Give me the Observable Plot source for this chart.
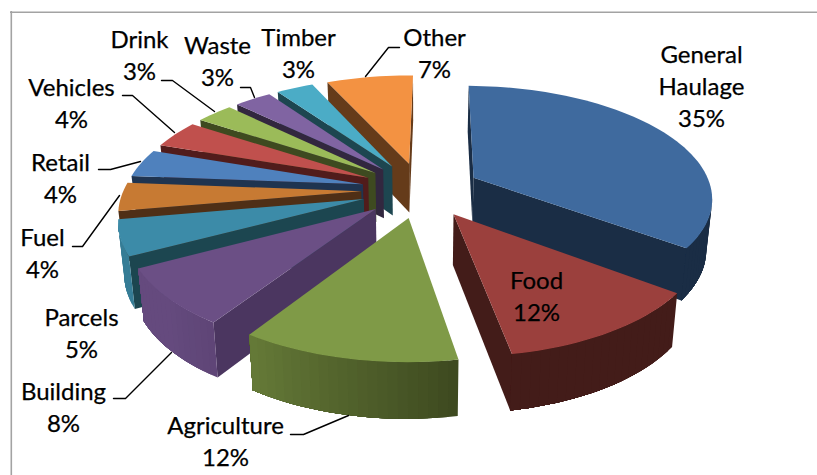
<!DOCTYPE html>
<html>
<head>
<meta charset="utf-8">
<style>
  html, body { margin: 0; background: #fff; }
  svg { display: block; }
</style>
<script src="https://cdn.jsdelivr.net/npm/d3@7"></script>
<script src="https://cdn.jsdelivr.net/npm/@observablehq/plot@0.6"></script>
</head>
<body>
<div id="chart"></div>
<script>
// Share of freight by sector, percent, clockwise from twelve o'clock.
const sectors = ["General\nHaulage", "Food", "Agriculture", "Building", "Parcels", "Fuel", "Retail", "Vehicles", "Drink", "Waste", "Timber", "Other"];
const shares = [35, 12, 12, 8, 5, 4, 4, 4, 3, 3, 3, 7];

const topColors = ["#3f6a9e", "#9b403d", "#7f9a47", "#6b4f85", "#3c8ba8", "#c77a33", "#4f81bd", "#c0504d", "#9bbb59", "#8064a2", "#4bacc6", "#f39242"];
const sideColors = ["#1a2d45", "#431c19", "#3e4a20", "#4b3660", "#1c4650", "#4f2f16", "#1f3450", "#511c1b", "#3e4a20", "#32273f", "#1d4650", "#653b1a"];

// Label block centres and leader-line bends, in chart units.
const labelX = [701, 536, 225, 63, 81, 42, 60, 71, 139, 217, 298, 434];
const labelY = [84.5, 294.5, 439.5, 405.5, 331.5, 251.5, 176.5, 101.5, 53.5, 59.5, 51.5, 51.5];
const leaders = [
  {name: "Other", x: [365, 388, 399], y: [76, 47, 47]},
  {name: "Drink", x: [214, 172, 161], y: [111, 80, 80]},
  {name: "Waste", x: [254, 250, 240], y: [97, 87, 87]},
  {name: "Vehicles", x: [174, 132, 122], y: [132, 95, 95]},
  {name: "Retail", x: [140, 110, 98], y: [161, 169, 169]},
  {name: "Fuel", x: [119, 82, 72], y: [195, 246, 246]},
  {name: "Building", x: [171, 125, 113], y: [352, 398, 398]},
  {name: "Agriculture", x: [348, 303, 290], y: [415, 434, 434]}
];

// Tilted-disc camera: pie-plane (u, v) to chart units.
const camera = {cx: 420.49, cy: 189.29, a: 237.87, b: 110.39, p: 0.1622, q: -0.0031, s: 1.526, s2: 2.794};
const explode = 0.2509;
const startAngle = -0.0114;
const rad = Math.PI / 180;

function project(u, v) {
  const {cx, cy, a, b, p, q, s, s2} = camera;
  const w = 1 + p * v + q * u;
  return [cx + (a * u + s2 * v) / w, cy + (-b * v + s * u) / w];
}
// Foot of the slice wall below a point on the top face.
function drop([x, y]) {
  return [x + (camera.cx - x) * 0.02, y + 48.7 + (y - 163) * 0.04];
}
const side = (a, b, p) => (b[0] - a[0]) * (p[1] - a[1]) - (b[1] - a[1]) * (p[0] - a[0]);

const polys = [];
function addPoly(id, pts, fill) {
  for (const [x, y] of [...pts, pts[0]]) polys.push({id, x, y, fill});
}

// Build each slice: its angular span, top outline, then walls facing the viewer.
let cum = 0;
const slices = shares.map((share, i) => {
  const t1 = startAngle + cum * 3.6;
  const t2 = startAngle + (cum + share) * 3.6;
  cum += share;
  const mid = (t1 + t2) / 2;
  const hu = explode * Math.sin(mid * rad), hv = explode * Math.cos(mid * rad);
  const hub = project(hu, hv);
  const n = Math.max(3, Math.ceil((t2 - t1) / 2));
  const angles = d3.range(n + 1).map(k => t1 + (t2 - t1) * k / n);
  const arc = angles.map(t => project(hu + Math.sin(t * rad), hv + Math.cos(t * rad)));
  return {i, hub, arc, angles};
});

// Back slices paint first; Food sits in front of General Haulage.
const paintOrder = [11, 10, 9, 8, 7, 6, 5, 4, 3, 2, 0, 1];
for (const i of paintOrder) {
  const {hub, arc, angles} = slices[i];
  const top = [hub, ...arc];
  const centre = [d3.mean(top, d => d[0]), d3.mean(top, d => d[1])];
  const faces = (a, b) => {
    const foot = [(a[0] + b[0]) / 2, (a[1] + b[1]) / 2 + 40];
    return side(a, b, centre) * side(a, b, foot) < 0;
  };
  const tone = d3.interpolateRgb(sideColors[i], topColors[i]);
  if (faces(arc[0], hub)) addPoly(`s${i}a`, [arc[0], hub, drop(hub), drop(arc[0])], sideColors[i]);
  const last = arc[arc.length - 1];
  if (faces(hub, last)) addPoly(`s${i}b`, [hub, last, drop(last), drop(hub)], sideColors[i]);
  // Rim: each strip runs on to the last visible segment, so the next one paints over it with no seam.
  const visible = d3.range(arc.length - 1).filter(k => faces(arc[k], arc[k + 1]));
  visible.forEach(k => {
    const strip = arc.slice(k, visible[visible.length - 1] + 2);
    const t = (angles[k] + angles[k + 1]) / 2;
    addPoly(`s${i}r${k}`, [...strip, ...strip.map(drop).reverse()], tone(Math.max(0, Math.min(0.8, (t - 170) / 70))));
  });
  addPoly(`s${i}t`, top, topColors[i]);
}

const labels = sectors.map((name, i) => ({text: `${name}\n${shares[i]}%`, x: labelX[i], y: labelY[i]}));
const leaderPoints = leaders.flatMap(l => l.x.map((x, k) => ({name: l.name, x, y: l.y[k]})));

const chart = Plot.plot({
  width: 817,
  height: 475,
  margin: 0,
  x: {domain: [0, 817], axis: null},
  y: {domain: [475, 0], axis: null},
  color: {type: "identity"},
  style: {background: "#fff", fontFamily: "Lato, sans-serif"},
  marks: [
    Plot.ruleX([10.8], {y1: 11, y2: 475, stroke: "#a3a3a3", strokeWidth: 1.6}),
    Plot.ruleY([11.8], {x1: 10, x2: 817, stroke: "#a3a3a3", strokeWidth: 1.6}),
    Plot.line(polys, {x: "x", y: "y", z: "id", fill: "fill", curve: "linear"}),
    Plot.line(leaderPoints, {x: "x", y: "y", z: "name", stroke: "#000", strokeWidth: 1.4, curve: "linear"}),
    Plot.text(labels, {x: "x", y: "y", text: "text", fontSize: 24, lineHeight: 1.34, fill: "#000", stroke: "#000", strokeWidth: 0.25, textAnchor: "middle", lineAnchor: "middle"})
  ]
});
document.getElementById("chart").append(chart);
</script>
</body>
</html>
